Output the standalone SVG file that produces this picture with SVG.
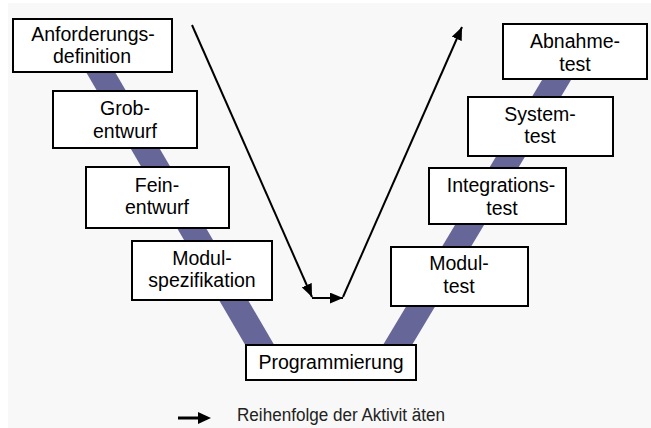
<svg xmlns="http://www.w3.org/2000/svg" width="651" height="428" viewBox="0 0 651 428">
<defs>
<style>
.box{fill:#ffffff;stroke:#000000;stroke-width:2}
.lbl{font-family:"Liberation Sans",Arial,sans-serif;font-size:19.5px;fill:#000000;text-anchor:middle}
.band{fill:#666699}
.arr{stroke:#000000;stroke-width:2;fill:none;marker-end:url(#ah)}
</style>
<marker id="ah" viewBox="0 0 12 10" refX="12" refY="5" markerWidth="13" markerHeight="11" orient="auto" markerUnits="userSpaceOnUse">
<path d="M0,0 L12,5 L0,10 z" fill="#000000"/>
</marker>
</defs>
<rect x="0" y="0" width="651" height="428" fill="#ffffff"/>
<rect x="8" y="3" width="643" height="425" fill="#f8f8f8"/>
<g id="bands">
<polygon class="band" points="79,60 108,60 283,360 254,360"/>
<polygon class="band" points="554,60 583,60 403,360 374,360"/>
</g>
<g id="n1"><rect class="box" x="13" y="19" width="159" height="53"/><text class="lbl" x="93" y="41">Anforderungs-</text><text class="lbl" x="92" y="63">definition</text></g>
<g id="n2"><rect class="box" x="53" y="91" width="144" height="57"/><text class="lbl" x="125" y="115">Grob-</text><text class="lbl" x="125" y="138">entwurf</text></g>
<g id="n3"><rect class="box" x="86" y="167" width="143" height="61"/><text class="lbl" x="157" y="192">Fein-</text><text class="lbl" x="157" y="214">entwurf</text></g>
<g id="n4"><rect class="box" x="132" y="241" width="140" height="59"/><text class="lbl" x="202" y="265">Modul-</text><text class="lbl" x="202" y="287">spezifikation</text></g>
<g id="n5"><rect class="box" x="246" y="345" width="170" height="35"/><text class="lbl" x="331" y="369">Programmierung</text></g>
<g id="n6"><rect class="box" x="391" y="247" width="137" height="59"/><text class="lbl" x="459" y="270">Modul-</text><text class="lbl" x="459" y="293">test</text></g>
<g id="n7"><rect class="box" x="429" y="168" width="137" height="56"/><text class="lbl" x="501" y="192">Integrations-</text><text class="lbl" x="502" y="215">test</text></g>
<g id="n8"><rect class="box" x="468" y="97" width="145" height="59"/><text class="lbl" x="540" y="121">System-</text><text class="lbl" x="540" y="143">test</text></g>
<g id="n9"><rect class="box" x="503" y="24" width="144" height="55"/><text class="lbl" x="575" y="48">Abnahme-</text><text class="lbl" x="575" y="71">test</text></g>
<g id="connectors">
<line class="arr" x1="192" y1="25" x2="312" y2="297"/>
<line class="arr" x1="312" y1="298" x2="343" y2="298"/>
<line class="arr" x1="343" y1="297" x2="462" y2="27"/>
</g>
<g id="legend">
<line x1="178" y1="418" x2="200" y2="418" stroke="#000000" stroke-width="3"/>
<path d="M198,412 L211,418 L198,424 z" fill="#000000"/>
<text x="237" y="421" font-family="'Liberation Sans',Arial,sans-serif" font-size="18" fill="#222222" textLength="208" lengthAdjust="spacingAndGlyphs">Reihenfolge der Aktivit äten</text>
</g>
</svg>
